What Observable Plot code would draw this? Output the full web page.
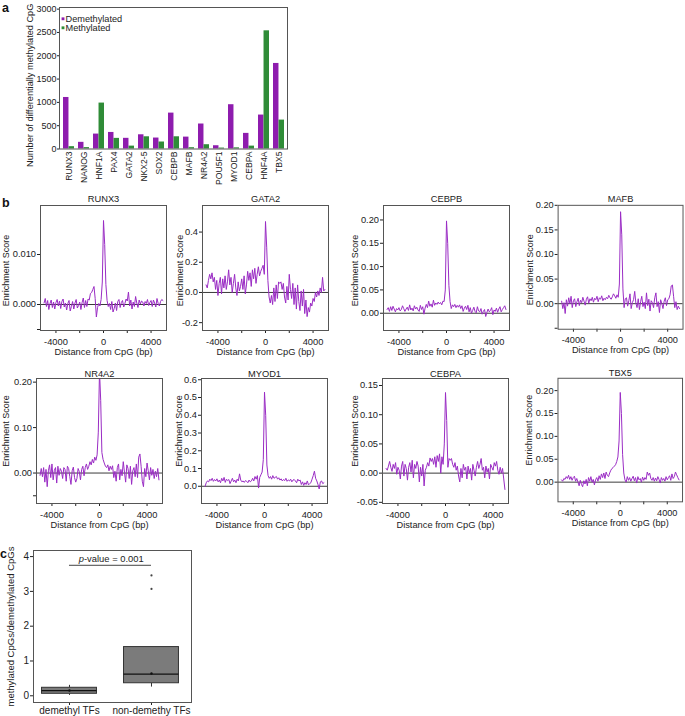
<!DOCTYPE html>
<html><head><meta charset="utf-8">
<script src="https://cdn.jsdelivr.net/npm/d3@7"></script>
<script src="https://cdn.jsdelivr.net/npm/@observablehq/plot@0.6"></script>
<style>
body{margin:0;background:#fff;overflow:hidden}
#fig{position:relative;width:685px;height:716px;overflow:hidden;font-family:"Liberation Sans",Arial,Helvetica,sans-serif;color:#222;background:#fff}
.cell{position:absolute}
.letter{position:absolute;font-weight:bold;font-size:12.5px;line-height:1;color:#111}
</style></head><body><div id="fig"></div>
<script>
// ---------- Panel a data ----------
const tfs = ["RUNX3","NANOG","HNF1A","PAX4","GATA2","NKX2-5","SOX2","CEBPB","MAFB","NR4A2","POU5F1","MYOD1","CEBPA","HNF4A","TBX5"];
const demethylated = [1105,143,320,355,229,305,235,770,255,536,70,950,335,728,1835];
const methylated = [50,30,985,228,62,262,150,262,28,92,20,25,62,2535,620];
const countTicks = [0,500,1000,1500,2000,2500,3000];

// ---------- Panel b data (distance bins -5000..5000 bp, step 100) ----------
const distances = d3.range(-5000, 5001, 100);
const distTicks = [-4000,-2000,0,2000,4000];
const distTickLabels = ["-4000","","0","","4000"];

const runx3 = [0.0003,0.0012,-0.0004,0.0008,-0.0010,0.0002,0.0009,-0.0006,0.0005,-0.0009,
0.0004,0.0010,-0.0003,0.0007,-0.0008,0.0006,0.0011,-0.0005,0.0003,-0.0011,
0.0002,0.0008,-0.0013,-0.0004,0.0006,-0.0009,0.0003,0.0010,-0.0007,-0.0002,
0.0005,-0.0010,0.0004,0.0013,-0.0006,0.0008,-0.0004,0.0011,0.0009,0.0022,
0.0024,0.0030,0.0036,0.0012,-0.0025,-0.0006,0.0002,-0.0003,0.0010,0.0045,
0.0168,
0.0120,0.0040,0.0008,-0.0004,0.0002,-0.0010,0.0006,-0.0015,-0.0008,0.0003,
-0.0012,0.0006,0.0010,-0.0006,0.0004,0.0008,-0.0005,0.0002,0.0011,0.0007,
0.0025,-0.0003,0.0009,-0.0009,0.0005,-0.0004,0.0016,0.0003,-0.0006,0.0009,
0.0001,0.0007,0.0005,-0.0003,0.0006,0.0002,0.0010,-0.0002,0.0004,0.0008,
-0.0004,0.0009,0.0003,-0.0005,0.0012,0.0002,-0.0003,0.0006,0.0010,0.0008];
const gata2 = [0.05,0.03,0.08,0.12,0.09,0.13,0.07,0.10,0.02,0.08,
-0.02,0.06,0.10,-0.01,0.09,0.03,0.11,0.02,0.07,0.15,
0.05,0.10,0.00,0.06,0.12,0.03,-0.02,0.07,0.01,0.04,
0.09,0.02,0.11,-0.01,0.05,0.14,0.08,0.13,0.04,0.15,
0.09,0.16,0.06,0.12,0.17,0.11,0.14,0.16,0.18,0.12,
0.47,
0.30,0.08,-0.03,-0.07,-0.02,-0.08,0.03,-0.06,0.05,-0.04,
0.07,0.06,0.07,0.02,0.06,-0.03,-0.07,0.04,-0.05,0.12,
0.02,-0.04,0.06,-0.08,0.03,-0.11,0.05,-0.06,-0.12,0.01,
-0.09,0.02,-0.14,-0.05,-0.16,-0.10,-0.13,-0.07,-0.09,-0.04,
-0.06,0.00,-0.03,0.01,-0.02,0.03,0.00,0.10,0.01,0.02];
const cebpb = [0.008,0.012,0.004,0.014,0.006,0.015,0.009,0.003,0.010,0.007,
0.012,0.005,0.008,0.016,0.010,0.004,0.009,0.013,0.006,0.018,
0.007,0.011,0.005,0.016,0.009,0.013,0.007,0.004,0.017,0.008,
0.014,-0.002,0.011,0.019,0.012,0.026,0.015,0.020,0.013,0.028,
0.017,0.022,0.019,0.024,0.020,0.023,0.018,0.026,0.025,0.050,
0.198,
0.150,0.060,0.025,0.010,0.018,0.014,0.019,0.012,0.017,0.013,
0.018,0.010,0.016,0.004,0.011,0.015,0.008,0.017,0.003,0.012,
0.000,0.006,0.013,0.004,0.001,0.014,0.005,0.003,0.010,-0.002,
0.004,0.008,-0.007,0.002,0.009,0.003,0.006,0.012,-0.003,0.007,
0.004,0.011,0.002,0.009,0.014,0.003,0.008,0.012,0.016,0.008];
const mafb = [0.005,-0.010,0.002,-0.020,0.008,-0.005,0.012,0.000,0.015,-0.008,
0.006,0.010,-0.006,0.004,0.011,-0.004,0.007,0.002,0.013,0.005,
-0.003,0.009,0.014,0.001,0.010,0.006,0.013,0.003,0.011,0.008,
0.015,0.004,0.012,0.009,0.016,0.006,0.011,0.008,0.013,0.010,
0.017,0.012,0.009,0.014,0.020,0.016,0.011,0.018,0.013,0.040,
0.187,
0.140,0.030,-0.008,0.010,0.012,-0.005,0.006,0.020,-0.010,0.002,
0.008,0.025,0.001,-0.008,0.010,-0.012,0.004,0.015,-0.006,0.003,
-0.010,0.022,-0.004,0.009,-0.015,0.006,0.002,-0.008,0.012,0.022,
-0.006,0.004,-0.018,0.008,0.001,-0.010,0.005,0.012,-0.004,0.008,
0.010,0.018,0.036,0.038,0.015,-0.008,0.004,-0.012,-0.005,-0.010];
const nr4a2 = [-0.005,0.010,-0.008,0.012,-0.020,0.008,-0.030,0.005,0.018,-0.010,
0.020,-0.015,0.006,0.012,-0.022,0.015,-0.005,0.010,0.004,-0.012,
0.012,0.008,-0.018,0.015,0.010,-0.008,-0.025,0.005,0.013,-0.010,
-0.020,-0.012,0.010,0.003,-0.015,0.008,0.015,-0.006,0.012,0.020,
0.008,0.015,0.025,0.018,0.030,0.022,0.035,0.028,0.040,0.090,
0.225,
0.160,0.045,0.030,0.022,0.015,0.012,0.018,0.005,0.015,0.008,
0.016,-0.010,0.004,-0.018,0.012,0.020,-0.015,0.008,-0.006,0.025,
0.002,-0.020,0.018,0.010,-0.012,0.015,-0.025,0.005,0.012,-0.008,
0.020,-0.010,0.035,0.042,0.015,-0.018,-0.030,0.010,-0.008,0.022,
0.005,-0.015,0.012,-0.005,0.008,-0.012,0.004,-0.008,0.010,-0.015];
const myod1 = [0.000,0.020,0.030,0.025,0.040,0.032,0.045,0.028,0.038,0.030,
0.042,0.025,0.035,0.020,0.045,0.030,0.050,0.022,0.040,0.032,
0.038,0.015,0.030,0.045,0.025,0.035,0.020,0.040,0.030,0.070,
0.035,0.025,0.030,0.022,0.032,0.028,0.020,0.035,0.025,0.030,
0.045,0.030,0.055,0.040,0.060,-0.010,0.050,0.065,0.080,0.150,
0.530,
0.400,0.120,0.060,0.045,0.055,0.040,0.060,0.045,0.050,0.055,
0.040,0.048,0.035,0.042,0.030,0.038,0.032,0.045,0.028,0.036,
0.030,0.040,0.025,0.035,0.038,0.030,0.020,0.040,0.030,0.035,
0.010,0.025,0.005,0.020,0.010,0.030,0.008,0.015,0.020,0.040,
0.060,0.085,0.045,0.030,0.010,-0.015,0.025,0.030,0.015,0.020];
const cebpa = [0.008,0.005,0.012,0.020,0.010,0.003,0.015,0.008,0.018,-0.002,
0.010,0.005,-0.010,0.012,0.020,-0.005,0.015,0.008,-0.012,0.010,
0.018,0.002,0.022,-0.008,0.015,0.008,0.020,0.012,-0.015,0.010,
-0.005,0.015,-0.022,0.005,0.010,0.018,0.012,0.026,0.020,0.025,
0.015,0.028,0.010,0.030,0.020,0.033,0.000,0.028,0.015,0.050,
0.138,
0.090,0.010,0.025,0.022,0.025,0.015,0.010,0.018,0.005,0.012,
-0.005,-0.015,0.008,-0.008,0.015,0.005,0.010,-0.010,0.012,0.000,
0.008,-0.012,0.015,0.005,-0.005,0.010,0.020,0.008,0.015,0.025,
0.005,0.010,-0.008,0.012,0.002,0.008,-0.010,0.015,0.010,0.005,
0.018,0.012,0.020,0.005,-0.002,0.010,0.000,0.008,-0.010,-0.028];
const tbx5 = [0.005,0.002,0.008,0.006,0.012,0.008,0.015,0.006,0.012,0.004,
0.010,0.013,0.002,0.008,0.000,-0.008,0.004,-0.005,-0.010,0.003,
-0.004,0.006,-0.008,0.010,0.002,0.012,0.000,0.006,-0.006,0.005,
0.010,0.002,0.014,0.006,0.018,0.010,0.020,0.008,0.022,0.015,
0.012,0.020,0.026,0.030,0.032,0.035,0.038,0.045,0.055,0.090,
0.196,
0.150,0.060,0.020,0.005,0.000,0.012,0.004,0.010,0.002,0.008,
0.013,0.003,0.010,-0.002,0.012,0.005,0.008,0.000,0.011,0.004,
0.010,0.006,0.022,0.015,0.020,0.008,0.004,0.010,0.002,0.009,
0.003,0.012,0.006,-0.002,0.010,0.004,0.008,0.002,0.012,0.005,
0.010,0.014,0.004,0.018,0.008,0.012,0.022,0.016,0.010,0.005];

// y ticks / labels per panel
const runx3Ticks = [-0.005,0,0.01], runx3Labels = ["","0.000","0.010"];
const gata2Ticks = [-0.2,0,0.2,0.4], gata2Labels = ["-0.2","0.0","0.2","0.4"];
const cebpbTicks = [0,0.05,0.1,0.15,0.2], cebpbLabels = ["0.00","0.05","0.10","0.15","0.20"];
const mafbTicks = [-0.05,0,0.05,0.1,0.15,0.2], mafbLabels = ["","0.00","0.05","0.10","0.15","0.20"];
const nr4a2Ticks = [-0.05,0,0.1,0.2], nr4a2Labels = ["","0.00","0.10","0.20"];
const myod1Ticks = [0,0.1,0.2,0.3,0.4,0.5,0.6], myod1Labels = ["0.0","0.1","0.2","0.3","0.4","0.5","0.6"];
const cebpaTicks = [-0.05,0,0.05,0.1,0.15], cebpaLabels = ["-0.05","0.00","0.05","0.10","0.15"];
const tbx5Ticks = [0,0.05,0.1,0.15,0.2], tbx5Labels = ["0.00","0.05","0.10","0.15","0.20"];

// ---------- Panel c data ----------
const groups = ["demethyl TFs","non-demethy TFs"];
const boxLow = [0.01, 0.25];
const boxQ1 = [0.057, 0.36];
const boxMedian = [0.15, 0.62];
const boxQ3 = [0.23, 1.40];
const boxHigh = [0.30, 1.40];
const boxMean = [0.15, 0.64];
const outlierGroup = [2, 2];
const outlierValues = [3.07, 3.46];
const ratioTicks = [0,1,2,3,4];
const pValueLevel = 3.75;

// ---------- helpers ----------
const fam = '"Liberation Sans", Arial, Helvetica, sans-serif';
const purple = "#8e1cae", green = "#2f8c37", linePurple = "#9a2cc4";
const fig = document.getElementById("fig");
function place(el, left, top){const d=document.createElement("div");d.className="cell";d.style.left=left+"px";d.style.top=top+"px";d.appendChild(el);fig.appendChild(d);}
function letter(t,left,top){const s=document.createElement("span");s.className="letter";s.textContent=t;s.style.left=left+"px";s.style.top=top+"px";fig.appendChild(s);}
const baseStyle = (fs)=>({fontFamily:fam,fontSize:fs,overflow:"visible",background:"transparent",color:"#222"});

// ---------- Panel a ----------
{
  const mL=59, mT=7, mR=6, mB=40, W=228, H=141.5;
  const dem = tfs.map((t,i)=>({tf:t,value:demethylated[i]}));
  const met = tfs.map((t,i)=>({tf:t,value:methylated[i]}));
  const p = Plot.plot({
    width:mL+W+mR, height:mT+H+mB, marginLeft:mL, marginTop:mT, marginRight:mR, marginBottom:mB,
    style:baseStyle("9px"),
    x:{domain:tfs, paddingInner:0.27, paddingOuter:0.15},
    y:{domain:[0,3035]},
    marks:[
      Plot.barY(dem,{x:"tf",y:"value",fill:purple,insetRight:5.53}),
      Plot.barY(met,{x:"tf",y:"value",fill:green,insetLeft:5.53}),
      Plot.axisX({tickRotate:-90,tickSize:0,tickPadding:2.5,fontSize:8.6,label:null}),
      Plot.axisY({ticks:countTicks,tickFormat:d=>String(d),tickSize:2,tickPadding:1,label:null}),
      Plot.frame({stroke:"#555"}),
      Plot.dot([0],{frameAnchor:"top-left",dx:3.5,dy:11.3,symbol:"square",r:1.6,fill:purple}),
      Plot.dot([0],{frameAnchor:"top-left",dx:3.5,dy:20.3,symbol:"square",r:1.6,fill:green}),
      Plot.text(["Demethylated"],{frameAnchor:"top-left",dx:6,dy:11.3,textAnchor:"start",lineAnchor:"middle",fontSize:9.2}),
      Plot.text(["Methylated"],{frameAnchor:"top-left",dx:6,dy:20.3,textAnchor:"start",lineAnchor:"middle",fontSize:9.2}),
      Plot.text(["Number of differentially methylated CpG"],{frameAnchor:"left",textAnchor:"middle",rotate:-90,dx:-29,dy:7,fontSize:9.2})
    ]
  });
  place(p, 0, 0);
}

// ---------- Panel b ----------
const panels = [
  {name:"RUNX3", v:runx3, dom:[-0.0052,0.0198], t:runx3Ticks, l:runx3Labels, left:39.5, top:205, row:0, ldx:-34, ldy:2.5},
  {name:"GATA2", v:gata2, dom:[-0.252,0.576], t:gata2Ticks, l:gata2Labels, left:202, top:205, row:0, ldx:-22, ldy:2.5},
  {name:"CEBPB", v:cebpb, dom:[-0.037,0.231], t:cebpbTicks, l:cebpbLabels, left:383, top:205, row:0, ldx:-28, ldy:2.5},
  {name:"MAFB", v:mafb, dom:[-0.052,0.2], t:mafbTicks, l:mafbLabels, left:557.5, top:205, row:0, ldx:-28.5, ldy:2.5},
  {name:"NR4A2", v:nr4a2, dom:[-0.067,0.208], t:nr4a2Ticks, l:nr4a2Labels, left:36, top:378, row:1, ldx:-30.5, ldy:-10},
  {name:"MYOD1", v:myod1, dom:[-0.097,0.607], t:myod1Ticks, l:myod1Labels, left:201, top:378, row:1, ldx:-22, ldy:-10},
  {name:"CEBPA", v:cebpa, dom:[-0.052,0.162], t:cebpaTicks, l:cebpaLabels, left:382, top:378, row:1, ldx:-27, ldy:-10},
  {name:"TBX5", v:tbx5, dom:[-0.043,0.227], t:tbx5Ticks, l:tbx5Labels, left:558, top:378, row:1, ldx:-29, ldy:-10}
];
for (const P of panels) {
  const mL=45, mT=20, mR=3, mB=30, W=126, H=125;
  const p = Plot.plot({
    width:mL+W+mR, height:mT+H+mB, marginLeft:mL, marginTop:mT, marginRight:mR, marginBottom:mB,
    style:baseStyle("9.3px"),
    x:{domain:[-5300,5300]},
    y:{domain:P.dom},
    marks:[
      Plot.ruleY([0],{stroke:"#3a3a3a",strokeWidth:1}),
      Plot.line(P.v,{x:distances,y:P.v,stroke:linePurple,strokeWidth:1,clip:true}),
      Plot.axisX({ticks:distTicks,tickFormat:d=>distTickLabels[distTicks.indexOf(d)],tickSize:3,tickPadding:P.row?5:4.7,label:null}),
      Plot.axisY({ticks:P.t,tickFormat:d=>P.l[P.t.indexOf(d)],tickSize:3,tickPadding:1.5,label:null}),
      Plot.frame({stroke:"#555"}),
      Plot.text([P.name],{frameAnchor:"top",dy:P.row?-2:-3.5,lineAnchor:"bottom"}),
      Plot.text(["Distance from CpG (bp)"],{frameAnchor:"bottom",dy:24,lineAnchor:"bottom"}),
      Plot.text(["Enrichment Score"],{frameAnchor:"left",textAnchor:"middle",rotate:-90,dx:P.ldx,dy:P.ldy,fontSize:9})
    ]
  });
  place(p, P.left-mL, P.top-mT);
}

// ---------- Panel c ----------
{
  const mL=33, mT=10, mR=5, mB=14, W=158, H=152;
  const pos = groups.map((g,i)=>i+1);
  const half = 0.335;
  const boxes = groups.map((g,i)=>({x:pos[i],lo:boxLow[i],q1:boxQ1[i],med:boxMedian[i],q3:boxQ3[i],hi:boxHigh[i],mean:boxMean[i]}));
  const outs = outlierValues.map((v,i)=>({x:outlierGroup[i],y:v}));
  const p = Plot.plot({
    width:mL+W+mR, height:mT+H+mB, marginLeft:mL, marginTop:mT, marginRight:mR, marginBottom:mB,
    style:baseStyle("10px"),
    x:{domain:[0.561,2.488]},
    y:{domain:[-0.193,4.175]},
    marks:[
      Plot.ruleX(boxes,{x:"x",y1:"lo",y2:"q1",stroke:"#333"}),
      Plot.ruleX(boxes,{x:"x",y1:"q3",y2:"hi",stroke:"#333"}),
      Plot.rect(boxes,{x1:d=>d.x-half,x2:d=>d.x+half,y1:"q1",y2:"q3",fill:"#7b7b7b",stroke:"#333",strokeWidth:1}),
      Plot.ruleY(boxes,{y:"med",x1:d=>d.x-half,x2:d=>d.x+half,stroke:"#111",strokeWidth:1.3}),
      Plot.dot(boxes,{x:"x",y:"mean",r:1.2,fill:"#111"}),
      Plot.dot(outs,{x:"x",y:"y",r:1.1,fill:"#444"}),
      Plot.ruleY([pValueLevel],{x1:1,x2:2,stroke:"#444"}),
      Plot.text(["p"],{x:1.5,y:pValueLevel,dx:-26.5,dy:-3,textAnchor:"end",lineAnchor:"bottom",fontStyle:"italic",fontSize:9.4}),
      Plot.text(["-value = 0.001"],{x:1.5,y:pValueLevel,dx:-26.5,dy:-3,textAnchor:"start",lineAnchor:"bottom",fontSize:9.4}),
      Plot.axisX({ticks:pos,tickFormat:d=>groups[d-1],tickSize:3,tickPadding:1.5,label:null}),
      Plot.axisY({ticks:ratioTicks,tickFormat:d=>String(d),tickSize:3,tickPadding:1.5,label:null}),
      Plot.frame({stroke:"#555"}),
      Plot.text(["methylated CpGs/demethylated CpGs"],{frameAnchor:"left",textAnchor:"middle",rotate:-90,dx:-23,dy:0,fontSize:9.5})
    ]
  });
  place(p, 0, 540);
}

letter("a",2,2);
letter("b",2,196.7);
letter("c",0,547.7);
</script></body></html>
